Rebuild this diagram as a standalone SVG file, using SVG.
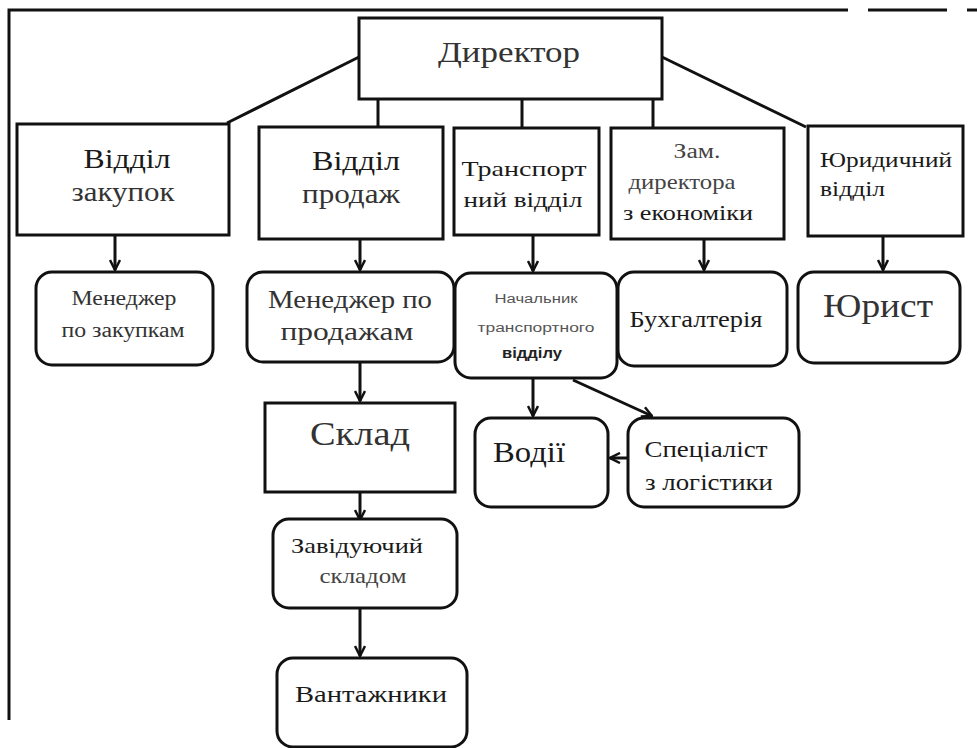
<svg xmlns="http://www.w3.org/2000/svg" width="977" height="748" viewBox="0 0 977 748">
  <style>
    .box { fill: #fff; stroke: #111; stroke-width: 3; }
    .ln { fill: none; stroke: #111; stroke-width: 3; }
    text { font-family: 'Liberation Serif', serif; text-anchor: middle; }
    .sans { font-family: 'Liberation Sans', sans-serif; }
    .left { text-anchor: start; }
  </style>
  <defs>
    <marker id="arr" viewBox="0 0 12 12" refX="11" refY="6" markerWidth="12" markerHeight="12" markerUnits="userSpaceOnUse" orient="auto">
      <path d="M1,1 L11,6 L1,11" fill="none" stroke="#111" stroke-width="2.5"/>
    </marker>
  </defs>
  <rect width="977" height="748" fill="#fff"/>

  <!-- page frame -->
  <g id="frame" class="ln">
    <path d="M9,720 V10 H848"/>
    <path d="M868,10 H947"/>
    <path d="M967,10 H977"/>
  </g>

  <!-- connectors -->
  <g id="connectors" class="ln">
    <path d="M359,57 L227,123"/>
    <path d="M378,99 V127"/>
    <path d="M522,99 V139" marker-end="url(#arr)"/>
    <path d="M653,99 V128"/>
    <path d="M662,57 L806,127"/>
    <path d="M115,235 V270" marker-end="url(#arr)"/>
    <path d="M360,239 V270" marker-end="url(#arr)"/>
    <path d="M533,235 V271" marker-end="url(#arr)"/>
    <path d="M704,239 V270" marker-end="url(#arr)"/>
    <path d="M883,236 V270" marker-end="url(#arr)"/>
    <path d="M360,362 V401" marker-end="url(#arr)"/>
    <path d="M533,378 V416" marker-end="url(#arr)"/>
    <path d="M573,380 L652,416" marker-end="url(#arr)"/>
    <path d="M628,458 H610" marker-end="url(#arr)"/>
    <path d="M360,492 V520" marker-end="url(#arr)"/>
    <path d="M360,608 V656" marker-end="url(#arr)"/>
  </g>

  <g id="director">
    <rect class="box" x="359" y="18" width="303" height="81"/>
    <text x="509" y="62" font-size="30" fill="#333" textLength="142" lengthAdjust="spacingAndGlyphs">Директор</text>
  </g>

  <g id="purchasing">
    <rect class="box" x="17" y="124" width="212" height="111"/>
    <text x="127" y="168" font-size="28" fill="#1a1a1a" textLength="87" lengthAdjust="spacingAndGlyphs">Відділ</text>
    <text x="123" y="201" font-size="27" fill="#333" textLength="103" lengthAdjust="spacingAndGlyphs">закупок</text>
  </g>

  <g id="sales">
    <rect class="box" x="259" y="127" width="184" height="112"/>
    <text x="356" y="170" font-size="28" fill="#1a1a1a" textLength="88" lengthAdjust="spacingAndGlyphs">Відділ</text>
    <text x="351" y="203" font-size="28" fill="#333" textLength="98" lengthAdjust="spacingAndGlyphs">продаж</text>
  </g>

  <g id="transport">
    <rect class="box" x="454" y="128" width="145" height="107"/>
    <text x="524" y="176" font-size="22" fill="#1a1a1a" textLength="125" lengthAdjust="spacingAndGlyphs">Транспорт</text>
    <text x="523" y="207" font-size="22" fill="#1a1a1a" textLength="119" lengthAdjust="spacingAndGlyphs">ний відділ</text>
  </g>

  <g id="deputy">
    <rect class="box" x="611" y="128" width="173" height="111"/>
    <text x="697" y="158" font-size="20" fill="#444" textLength="47" lengthAdjust="spacingAndGlyphs">Зам.</text>
    <text x="682" y="189" font-size="21" fill="#444" textLength="107" lengthAdjust="spacingAndGlyphs">директора</text>
    <text x="688" y="220" font-size="22" fill="#1a1a1a" textLength="130" lengthAdjust="spacingAndGlyphs">з економіки</text>
  </g>

  <g id="legal">
    <rect class="box" x="808" y="126" width="155" height="110"/>
    <text class="left" x="820" y="167" font-size="21" fill="#1a1a1a" textLength="132" lengthAdjust="spacingAndGlyphs">Юридичний</text>
    <text class="left" x="820" y="196" font-size="21" fill="#1a1a1a" textLength="65" lengthAdjust="spacingAndGlyphs">відділ</text>
  </g>

  <g id="purchase-manager">
    <rect class="box" x="36" y="272" width="177" height="93" rx="16"/>
    <text x="124" y="305" font-size="20" fill="#333" textLength="105" lengthAdjust="spacingAndGlyphs">Менеджер</text>
    <text x="123" y="337" font-size="20" fill="#333" textLength="123" lengthAdjust="spacingAndGlyphs">по закупкам</text>
  </g>

  <g id="sales-manager">
    <rect class="box" x="247" y="272" width="207" height="90" rx="16"/>
    <text x="350" y="308" font-size="26" fill="#333" textLength="164" lengthAdjust="spacingAndGlyphs">Менеджер по</text>
    <text x="347" y="340" font-size="26" fill="#333" textLength="133" lengthAdjust="spacingAndGlyphs">продажам</text>
  </g>

  <g id="warehouse">
    <rect class="box" x="265" y="403" width="190" height="89"/>
    <text x="360" y="445" font-size="33" fill="#333" textLength="100" lengthAdjust="spacingAndGlyphs">Склад</text>
  </g>

  <g id="transport-head">
    <rect class="box" x="455" y="273" width="162" height="105" rx="16"/>
    <text class="sans" x="536" y="303" font-size="12" fill="#555" textLength="83" lengthAdjust="spacingAndGlyphs">Начальник</text>
    <text class="sans" x="536" y="332" font-size="12" fill="#555" textLength="117" lengthAdjust="spacingAndGlyphs">транспортного</text>
    <text class="sans" x="532" y="358" font-size="14" fill="#222" font-weight="bold" textLength="60" lengthAdjust="spacingAndGlyphs">відділу</text>
  </g>

  <g id="accounting">
    <rect class="box" x="618" y="272" width="169" height="94" rx="16"/>
    <text x="696" y="327" font-size="24" fill="#1a1a1a" textLength="133" lengthAdjust="spacingAndGlyphs">Бухгалтерія</text>
  </g>

  <g id="lawyer">
    <rect class="box" x="798" y="272" width="162" height="91" rx="16"/>
    <text x="878" y="317" font-size="34" fill="#333" textLength="110" lengthAdjust="spacingAndGlyphs">Юрист</text>
  </g>

  <g id="drivers">
    <rect class="box" x="475" y="418" width="133" height="89" rx="16"/>
    <text x="529" y="462" font-size="29" fill="#1a1a1a" textLength="72" lengthAdjust="spacingAndGlyphs">Водії</text>
  </g>

  <g id="logistics">
    <rect class="box" x="628" y="418" width="171" height="89" rx="16"/>
    <text x="706" y="457" font-size="24" fill="#1a1a1a" textLength="123" lengthAdjust="spacingAndGlyphs">Спеціаліст</text>
    <text x="709" y="490" font-size="24" fill="#1a1a1a" textLength="128" lengthAdjust="spacingAndGlyphs">з логістики</text>
  </g>

  <g id="storekeeper">
    <rect class="box" x="273" y="519" width="184" height="89" rx="16"/>
    <text x="357" y="553" font-size="22" fill="#1a1a1a" textLength="132" lengthAdjust="spacingAndGlyphs">Завідуючий</text>
    <text x="363" y="583" font-size="22" fill="#444" textLength="87" lengthAdjust="spacingAndGlyphs">складом</text>
  </g>

  <g id="loaders">
    <rect class="box" x="277" y="658" width="190" height="89" rx="16"/>
    <text x="371" y="702" font-size="24" fill="#1a1a1a" textLength="152" lengthAdjust="spacingAndGlyphs">Вантажники</text>
  </g>
</svg>
